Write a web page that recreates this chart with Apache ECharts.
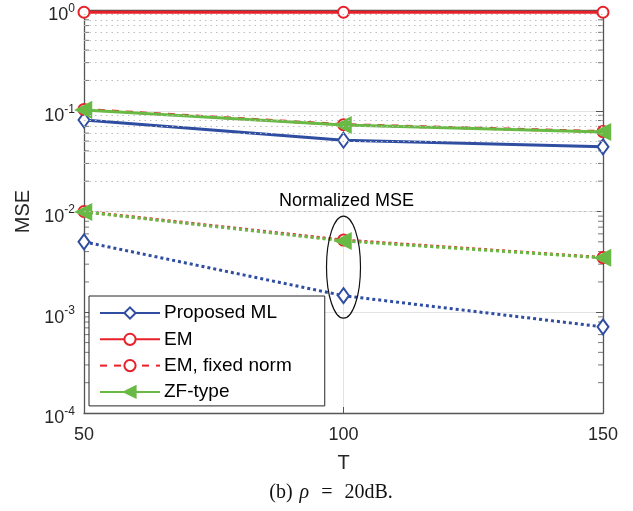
<!DOCTYPE html>
<html><head><meta charset="utf-8">
<script src="https://cdn.jsdelivr.net/npm/echarts@6/dist/echarts.min.js"></script>
<style>html,body{margin:0;padding:0;background:#fff}#c{width:633px;height:511px}</style>
</head><body><div id="c"></div>
<script>
const T = [50, 100, 150];
const mlMSE = [0.081, 0.051, 0.0438];
const emMSE = [0.95, 0.95, 0.95];
const emFixedMSE = [0.103, 0.0728, 0.0621];
const zfMSE = [0.102, 0.0722, 0.0616];
const mlNMSE = [0.0050, 0.00146, 0.000716];
const emNMSE = [0.0100, 0.0052, 0.00349];
const zfNMSE = [0.0099, 0.0051, 0.00347];
const xTicks = [50, 100, 150];
const yDecades = [-4, -3, -2, -1, 0];
const legendNames = ['Proposed ML', 'EM', 'EM, fixed norm', 'ZF-type'];

const BLUE = '#2F4EA2', RED = '#E8202A', GREEN = '#68BA45', AX = '#555555', TXT = '#262626';

const minorVals = [];
yDecades.slice(0, -1).forEach(d => { for (let k = 2; k <= 9; k++) minorVals.push(k * Math.pow(10, d)); });

function pts(vals) { return T.map((t, i) => [t, vals[i]]); }

const chart = echarts.init(document.getElementById('c'), null, {renderer: 'canvas'});
const mk = (name, data, color, symbol, type, extra) => Object.assign({
  name, type: 'line', data: pts(data), symbol, symbolSize: 11,
  lineStyle: {color, width: 3, type},
  itemStyle: {color, borderColor: color, borderWidth: 2.5},
  z: 3
}, extra || {});

const tickSeries = {
  name: 'ticks', type: 'scatter', silent: true, z: 1,
  data: minorVals.map(v => [50, v]),
  symbol: 'rect', symbolSize: [5, 1], symbolOffset: [2.5, 0],
  itemStyle: {color: AX}
};
const tickSeriesR = {
  name: 'ticksR', type: 'scatter', silent: true, z: 1,
  data: minorVals.map(v => [150, v]),
  symbol: 'rect', symbolSize: [5, 1], symbolOffset: [-2.5, 0],
  itemStyle: {color: AX}
};

const option = {
  animation: false,
  grid: {left: 84, right: 30, top: 10, bottom: 98, show: false},
  xAxis: [{
    type: 'value', min: 50, max: 150, interval: 50,
    name: 'T', nameLocation: 'middle', nameGap: 40,
    nameTextStyle: {color: TXT, fontSize: 20, fontFamily: 'Liberation Sans'},
    axisLine: {lineStyle: {color: AX, width: 1.3}},
    axisTick: {inside: true, length: 6, lineStyle: {color: AX}},
    axisLabel: {color: TXT, fontSize: 18, fontFamily: 'Liberation Sans', margin: 13,
      formatter: v => xTicks.includes(v) ? String(v) : ''},
    splitLine: {show: true, lineStyle: {color: '#e3e3e3', width: 1}}
  }, {
    type: 'value', min: 50, max: 150, interval: 50, position: 'top',
    axisLine: {show: true, lineStyle: {color: AX, width: 1.3}},
    axisTick: {inside: true, length: 6, lineStyle: {color: AX}},
    axisLabel: {show: false}, splitLine: {show: false}
  }],
  yAxis: [{
    type: 'log', logBase: 10, min: 1e-4, max: 1,
    name: 'MSE', nameLocation: 'middle', nameGap: 49,
    nameTextStyle: {color: TXT, fontSize: 20, fontFamily: 'Liberation Sans'},
    axisLine: {show: true, lineStyle: {color: AX, width: 1.3}},
    axisTick: {inside: true, length: 7, lineStyle: {color: AX}},
    axisLabel: {
      color: TXT, margin: 9, padding: [7, 0, 0, 0],
      formatter: v => { const e = Math.round(Math.log10(v)); return '{b|10}{s|' + e + '}'; },
      rich: {
        b: {fontSize: 18, fontFamily: 'Liberation Sans', color: TXT, lineHeight: 22, verticalAlign: 'bottom'},
        s: {fontSize: 12, fontFamily: 'Liberation Sans', color: TXT, lineHeight: 22, verticalAlign: 'top'}
      }
    },
    splitLine: {show: true, lineStyle: {color: '#e3e3e3', width: 1}}
  }, {
    type: 'log', logBase: 10, min: 1e-4, max: 1, position: 'right',
    axisLine: {show: true, lineStyle: {color: AX, width: 1.3}},
    axisTick: {inside: true, length: 7, lineStyle: {color: AX}},
    axisLabel: {show: false}, splitLine: {show: false}
  }],
  legend: {
    data: legendNames, orient: 'vertical', left: 89, top: 296,
    backgroundColor: '#fff', borderColor: '#262626', borderWidth: 1,
    padding: [7, 33, 4, 10], itemGap: 6.3, itemWidth: 60, itemHeight: 14,
    textStyle: {color: '#000', fontSize: 19, lineHeight: 20, fontFamily: 'Liberation Sans', padding: [0, 0, 0, -1]},
    z: 10
  },
  series: [
    {
      name: 'grid-minor', type: 'line', data: [], silent: true, z: 0,
      markLine: {
        silent: true, symbol: 'none', label: {show: false},
        lineStyle: {color: '#bdbdbd', width: 1, type: [1.5, 4]},
        data: minorVals.map(v => ({yAxis: v}))
      }
    },
    tickSeries, tickSeriesR,
    mk('Proposed ML', mlMSE, BLUE, 'emptyDiamond', 'solid', {symbolSize: [11, 15]}),
    mk('EM', emMSE, RED, 'emptyCircle', 'solid'),
    mk('EM, fixed norm', emFixedMSE, RED, 'emptyCircle', [7, 7]),
    mk('ZF-type', zfMSE, GREEN, 'triangle', 'solid', {symbolRotate: 90, symbolSize: 14, z: 4}),
    mk('Proposed ML normalized', mlNMSE, BLUE, 'emptyDiamond', [3, 3], {symbolSize: [11, 15]}),
    mk('EM normalized', emNMSE, RED, 'emptyCircle', [3, 3]),
    mk('ZF-type normalized', zfNMSE, GREEN, 'triangle', [3, 3], {symbolRotate: 90, symbolSize: 14, z: 4})
  ]
};
chart.setOption(option);

const c = chart.convertToPixel({xAxisIndex: 0, yAxisIndex: 0}, [100, 0.0028]);
chart.setOption({
  graphic: [
    {type: 'ellipse', shape: {cx: c[0], cy: c[1], rx: 17, ry: 51},
     style: {fill: null, stroke: '#111', lineWidth: 1.2}, z: 20},
    {type: 'text', x: c[0] + 3, y: c[1] - 66,
     style: {text: 'Normalized MSE', fill: '#000', fontSize: 18, fontFamily: 'Liberation Sans', align: 'center', verticalAlign: 'middle'}, z: 20},
    {type: 'text', x: 331, y: 493,
     style: {align: 'center', verticalAlign: 'middle',
       rich: {n: {fontFamily: 'Liberation Serif', fontSize: 20, fill: '#111'},
              e: {fontFamily: 'Liberation Serif', fontSize: 20, fill: '#111', padding: [0, 12, 0, 12]},
              i: {fontFamily: 'Liberation Serif', fontStyle: 'italic', fontSize: 20, fill: '#111', padding: [0, 0, 0, 7]}},
       text: '{n|(b)}{i|ρ}{e|=}{n|20dB.}'}}
  ]
});
</script></body></html>
